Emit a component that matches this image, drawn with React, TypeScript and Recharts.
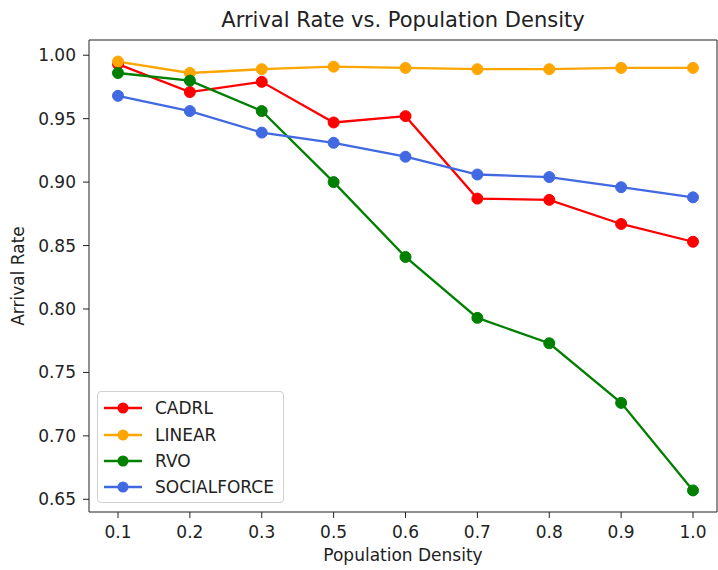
import { LineChart, Line, XAxis, YAxis, Legend, Label } from "recharts";

const densities = ["0.1", "0.2", "0.3", "0.5", "0.6", "0.7", "0.8", "0.9", "1.0"];
const cadrl = [0.993, 0.971, 0.979, 0.947, 0.952, 0.887, 0.886, 0.867, 0.853];
const linear = [0.995, 0.986, 0.989, 0.991, 0.990, 0.989, 0.989, 0.990, 0.990];
const rvo = [0.986, 0.980, 0.956, 0.900, 0.841, 0.793, 0.773, 0.726, 0.657];
const socialforce = [0.968, 0.956, 0.939, 0.931, 0.920, 0.906, 0.904, 0.896, 0.888];
const yTicks = [0.65, 0.7, 0.75, 0.8, 0.85, 0.9, 0.95, 1.0];

const SERIES = [
  { key: "CADRL", values: cadrl, color: "#ff0000" },
  { key: "LINEAR", values: linear, color: "#ffa500" },
  { key: "RVO", values: rvo, color: "#008000" },
  { key: "SOCIALFORCE", values: socialforce, color: "#4169e1" },
];

const chartData = densities.map((d, i) => {
  const row: Record<string, string | number> = { density: d };
  SERIES.forEach((s) => {
    row[s.key] = s.values[i];
  });
  return row;
});

const FONT = "'DejaVu Sans', sans-serif";
const INK = "#222";

const renderLegend = () => (
  <div
    style={{
      width: 187,
      height: 112,
      border: "1px solid #d0d0d0",
      borderRadius: 4,
      background: "rgba(255,255,255,0.8)",
      boxSizing: "border-box",
      paddingTop: 3,
      fontFamily: FONT,
      fontSize: 17,
      color: INK,
      textAlign: "left",
    }}
  >
    {SERIES.map((s) => (
      <div key={s.key} style={{ display: "flex", alignItems: "center", height: 26.4 }}>
        <svg width={46} height={14} style={{ marginLeft: 4 }}>
          <line x1={2} y1={7} x2={40} y2={7} stroke={s.color} strokeWidth={2.5} />
          <circle cx={21} cy={7} r={5.5} fill={s.color} />
        </svg>
        <span style={{ marginLeft: 7 }}>{s.key}</span>
      </div>
    ))}
  </div>
);

export default function App() {
  return (
    <div style={{ position: "absolute", left: 0, top: 0, width: 718, height: 570, background: "#fff" }}>
      <div
        style={{
          position: "absolute",
          left: 89,
          width: 628,
          top: 7,
          textAlign: "center",
          fontFamily: FONT,
          fontSize: 21,
          color: INK,
          lineHeight: "26px",
        }}
      >
        Arrival Rate vs. Population Density
      </div>
      <LineChart
        width={718}
        height={570}
        data={chartData}
        margin={{ top: 39, right: 0, left: 0, bottom: 0 }}
      >
        <XAxis
          dataKey="density"
          height={58}
          padding={{ left: 29, right: 24 }}
          stroke={INK}
          tickSize={6}
          tickMargin={8}
          tick={{ fill: INK, fontSize: 17, fontFamily: FONT }}
        >
          <Label
            content={({ viewBox }: any) => (
              <text
                x={viewBox.x + viewBox.width / 2}
                y={561}
                textAnchor="middle"
                fill={INK}
                fontSize={17}
                fontFamily={FONT}
              >
                Population Density
              </text>
            )}
          />
        </XAxis>
        <XAxis
          xAxisId="top"
          dataKey="density"
          orientation="top"
          height={1}
          padding={{ left: 29, right: 24 }}
          tick={false}
          tickLine={false}
          axisLine={{ stroke: INK }}
        />
        <YAxis
          yAxisId="left"
          type="number"
          width={89}
          domain={[0.64, 1.012]}
          ticks={yTicks}
          allowDataOverflow
          stroke={INK}
          tickSize={6}
          tickMargin={7}
          tickFormatter={(v: number) => v.toFixed(2)}
          tick={{ fill: INK, fontSize: 17, fontFamily: FONT }}
        >
          <Label
            content={({ viewBox }: any) => {
              const cy = viewBox.y + viewBox.height / 2;
              return (
                <text
                  x={24}
                  y={cy}
                  transform={`rotate(-90, 24, ${cy})`}
                  textAnchor="middle"
                  fill={INK}
                  fontSize={17}
                  fontFamily={FONT}
                >
                  Arrival Rate
                </text>
              );
            }}
          />
        </YAxis>
        <YAxis
          yAxisId="right"
          orientation="right"
          width={1}
          domain={[0.64, 1.012]}
          tick={false}
          tickLine={false}
          stroke={INK}
        />
        <Legend
          layout="vertical"
          verticalAlign="middle"
          align="center"
          content={renderLegend}
          wrapperStyle={{ left: 97, top: 391, width: 187 }}
        />
        {SERIES.map((s) => (
          <Line
            key={s.key}
            yAxisId="left"
            dataKey={s.key}
            stroke={s.color}
            strokeWidth={2.3}
            dot={{ r: 5.5, fill: s.color, stroke: s.color, strokeWidth: 1 }}
            activeDot={false}
            isAnimationActive={false}
          />
        ))}
      </LineChart>
    </div>
  );
}
